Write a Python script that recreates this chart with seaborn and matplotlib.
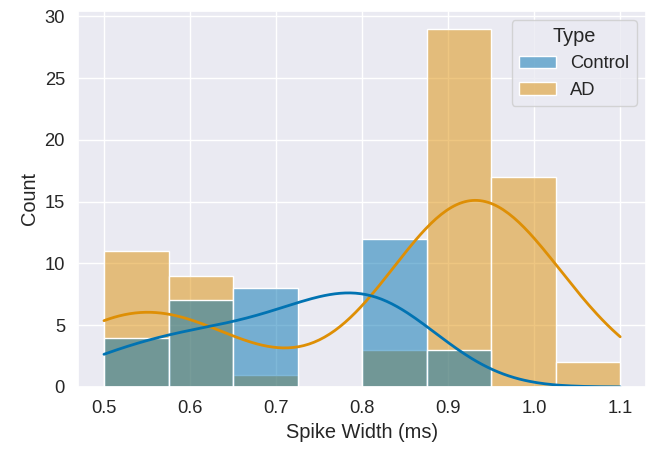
import numpy as np
import pandas as pd
import seaborn as sns
import matplotlib.pyplot as plt

control_widths = [
    0.50, 0.50, 0.51, 0.53,
    0.58, 0.59, 0.60, 0.61, 0.62, 0.63, 0.64,
    0.69, 0.71, 0.72, 0.72, 0.72, 0.72, 0.72, 0.72,
    0.80, 0.80, 0.80, 0.80, 0.80, 0.80, 0.80, 0.80, 0.81, 0.82, 0.84, 0.86,
    0.88, 0.88, 0.89,
]
ad_widths = [
    0.50, 0.50, 0.50, 0.50, 0.50, 0.50, 0.50, 0.51, 0.52, 0.53, 0.55,
    0.58, 0.58, 0.58, 0.59, 0.59, 0.60, 0.61, 0.62, 0.64,
    0.70,
    0.83, 0.85, 0.87,
    0.88, 0.88, 0.88, 0.88, 0.88, 0.89, 0.89, 0.89, 0.89, 0.90, 0.90, 0.90,
    0.90, 0.91, 0.91, 0.91, 0.91, 0.92, 0.92, 0.92, 0.93, 0.93,
    0.93, 0.94, 0.94, 0.94, 0.94, 0.945, 0.945,
    0.955, 0.955, 0.955, 0.96, 0.96, 0.96, 0.97, 0.97, 0.98,
    0.98, 0.99, 0.99, 1.00, 1.00, 1.01, 1.01, 1.02,
    1.09, 1.10,
]
type_labels = ["Control", "AD"]

df = pd.DataFrame({
    "Spike Width (ms)": control_widths + ad_widths,
    "Type": [type_labels[0]] * len(control_widths) + [type_labels[1]] * len(ad_widths),
})

sns.set_theme(font_scale=1.2)
plt.rcParams["font.family"] = ["Liberation Sans", "DejaVu Sans"]

fig, ax = plt.subplots(figsize=(6.46, 4.51), dpi=100)
sns.histplot(data=df, x="Spike Width (ms)", hue="Type", hue_order=type_labels,
             bins=np.linspace(0.5, 1.1, 9), kde=True, palette="colorblind", ax=ax,
             kde_kws={"bw_adjust": 1.12}, line_kws={"linewidth": 2})
ax.set_ylabel("Count")
fig.subplots_adjust(left=0.121, right=1.0, top=0.976, bottom=0.142)
fig.savefig("out.png")
